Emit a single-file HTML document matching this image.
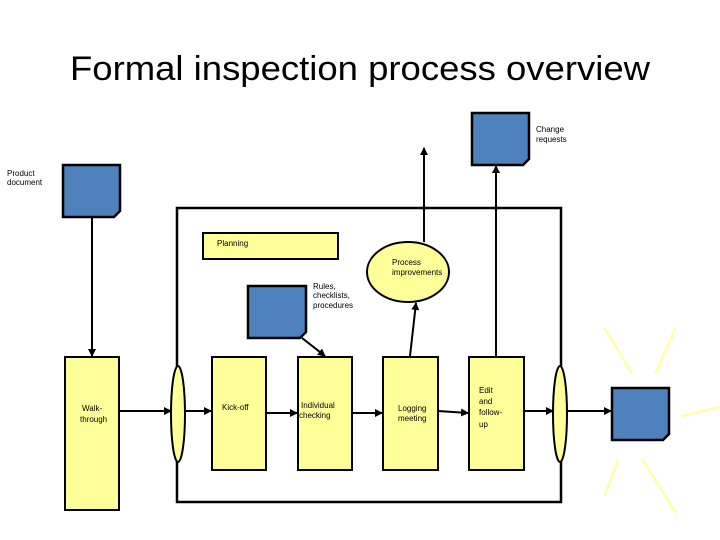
<!DOCTYPE html>
<html><head><meta charset="utf-8"><style>body{margin:0;background:#fff}svg{display:block}text{font-family:"Liberation Sans",sans-serif;fill:#000}</style></head><body>
<svg width="720" height="540" viewBox="0 0 720 540" xmlns="http://www.w3.org/2000/svg">
<defs><marker id="a" markerWidth="8" markerHeight="8" refX="7" refY="4" orient="auto" markerUnits="userSpaceOnUse"><path d="M0,0 L8,4 L0,8 z" fill="#000"/></marker></defs>
<text x="70" y="80" font-size="34" textLength="580" lengthAdjust="spacingAndGlyphs">Formal inspection process overview</text>
<g stroke="#ffffa8" stroke-width="2.5" stroke-linecap="round">
<line x1="605" y1="329" x2="631" y2="372"/><line x1="675" y1="329" x2="656" y2="372"/><line x1="682" y1="416" x2="720" y2="407"/><line x1="618" y1="460" x2="605" y2="495"/><line x1="643" y1="460" x2="675" y2="512"/>
</g>
<rect x="177" y="208" width="384" height="294" fill="none" stroke="#000" stroke-width="2.5"/>
<g fill="#4f81bd" stroke="#000" stroke-width="2.5">
<path d="M63,165 H120 V211 L114,217 H63 Z"/>
<path d="M472,113 H529 V159 L523,165 H472 Z"/>
<path d="M248,286 H306 V332 L300,338 H248 Z"/>
<path d="M612,388 H669 V434 L663,440 H612 Z"/>
</g>
<g fill="#ffff99" stroke="#000" stroke-width="2">
<rect x="203" y="233" width="135" height="26"/>
<ellipse cx="408" cy="272" rx="41" ry="30"/>
<rect x="65" y="357" width="54" height="153"/>
<rect x="212" y="357" width="54" height="113"/>
<rect x="298" y="357" width="54" height="113"/>
<rect x="383" y="357" width="55" height="113"/>
<rect x="469" y="357" width="55" height="113"/>
<ellipse cx="178" cy="414" rx="7" ry="48"/>
<ellipse cx="560" cy="414" rx="7" ry="48"/>
</g>
<g stroke="#000" stroke-width="2" fill="none" marker-end="url(#a)">
<line x1="92" y1="217" x2="92" y2="356"/>
<line x1="119" y1="411" x2="171" y2="411"/>
<line x1="185" y1="411" x2="211" y2="411"/>
<line x1="266" y1="413" x2="297" y2="413"/>
<line x1="352" y1="413" x2="382" y2="413"/>
<line x1="438" y1="411" x2="468" y2="413"/>
<line x1="524" y1="411" x2="553" y2="411"/>
<line x1="567" y1="411" x2="611" y2="411"/>
<line x1="302" y1="338" x2="325" y2="356"/>
<line x1="410" y1="356" x2="416" y2="303"/>
<line x1="424" y1="242" x2="424" y2="148"/>
<line x1="496" y1="356" x2="496" y2="166"/>
</g>
<g font-size="8">
<text x="7" y="176">Product</text><text x="7" y="185">document</text>
<text x="536" y="132">Change</text><text x="536" y="142">requests</text>
<text x="217" y="246">Planning</text>
<text x="392" y="265">Process</text><text x="392" y="275">improvements</text>
<text x="313" y="289">Rules,</text><text x="313" y="298">checklists,</text><text x="313" y="308">procedures</text>
<text x="82" y="411">Walk-</text><text x="80" y="422">through</text>
<text x="222" y="410">Kick-off</text>
<text x="301" y="408">Individual</text><text x="299" y="418">checking</text>
<text x="398" y="411">Logging</text><text x="398" y="421">meeting</text>
<text x="479" y="393">Edit</text><text x="479" y="404">and</text><text x="479" y="415">follow-</text><text x="479" y="427">up</text>
</g>
</svg>
</body></html>
